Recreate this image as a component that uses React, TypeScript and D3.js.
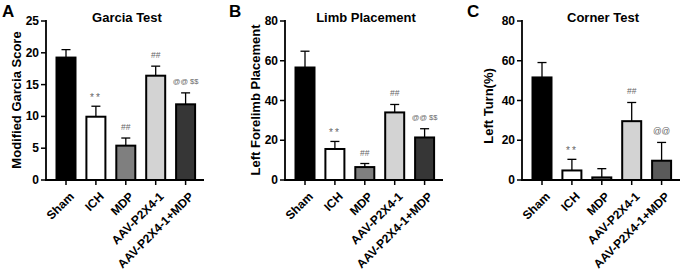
import React from "react";
import * as d3 from "d3";

const categories = ["Sham", "ICH", "MDP", "AAV-P2X4-1", "AAV-P2X4-1+MDP"];

const garciaMeans = [19.25, 9.95, 5.4, 16.4, 11.9];
const garciaErrors = [1.25, 1.65, 1.2, 1.5, 1.8];
const garciaMarks = ["", "**", "##", "##", "@@ $$"];
const garciaTicks = [0, 5, 10, 15, 20, 25];

const limbMeans = [56.6, 15.6, 6.5, 34, 21.4];
const limbErrors = [8.2, 3.8, 1.8, 4, 4.4];
const limbMarks = ["", "**", "##", "##", "@@ $$"];
const limbTicks = [0, 20, 40, 60, 80];

const cornerMeans = [51.6, 4.8, 1.3, 29.6, 9.7];
const cornerErrors = [7.5, 5.6, 4.4, 9.4, 9.2];
const cornerMarks = ["", "**", "", "##", "@@"];
const cornerTicks = [0, 20, 40, 60, 80];

const FONT = "'Liberation Sans', Arial, Helvetica, sans-serif";

type PanelProps = {
  letter: string;
  title: string;
  yTitle: string;
  means: number[];
  errors: number[];
  marks: string[];
  ticks: number[];
  fills: string[];
  axisX: number;
  letterX: number;
  yTitleX: number;
  yTitleY: number;
};

const Y_TOP = 21;
const Y_BOTTOM = 180;

function Panel(p: PanelProps) {
  const yMax = p.ticks[p.ticks.length - 1];
  const y = d3.scaleLinear().domain([0, yMax]).range([Y_BOTTOM, Y_TOP]);
  const x = d3
    .scalePoint<string>()
    .domain(categories)
    .range([p.axisX + 20, p.axisX + 139.6]);
  const barW = 19;
  const capW = 9;
  return (
    <g fontFamily={FONT}>
      <text x={p.letterX} y={17} fontSize={17} fontWeight="bold" fill="#000">
        {p.letter}
      </text>
      <text
        x={p.axisX + 81}
        y={21.5}
        fontSize={13}
        fontWeight="bold"
        textAnchor="middle"
        fill="#000"
      >
        {p.title}
      </text>
      <text
        transform={`translate(${p.yTitleX},${p.yTitleY}) rotate(-90)`}
        fontSize={13}
        fontWeight="bold"
        textAnchor="middle"
        fill="#000"
      >
        {p.yTitle}
      </text>
      {/* bars */}
      {categories.map((c, i) => {
        const cx = x(c) as number;
        const top = y(p.means[i]);
        const errTop = y(p.means[i] + p.errors[i]);
        const m = p.marks[i];
        return (
          <g key={c}>
            <line x1={cx} x2={cx} y1={top} y2={errTop} stroke="#000" strokeWidth={1.3} />
            <line
              x1={cx - capW / 2}
              x2={cx + capW / 2}
              y1={errTop}
              y2={errTop}
              stroke="#000"
              strokeWidth={1.3}
            />
            <rect
              x={cx - barW / 2}
              y={top}
              width={barW}
              height={Y_BOTTOM - top}
              fill={p.fills[i]}
              stroke="#000"
              strokeWidth={2}
            />
            {m && (
              <text
                x={cx}
                y={errTop - 11}
                dominantBaseline="central"
                textAnchor="middle"
                fontSize={m === "**" ? 10 : m.length > 2 ? 7.5 : 8.5}
                letterSpacing={m === "**" ? 2 : 0}
                fill="#666"
                dy={m === "**" ? 2 : 0}
              >
                {m}
              </text>
            )}
          </g>
        );
      })}
      {/* y axis */}
      <line x1={p.axisX} x2={p.axisX} y1={Y_TOP - 1} y2={Y_BOTTOM + 1} stroke="#000" strokeWidth={1.8} />
      {p.ticks.map((t) => (
        <g key={t}>
          <line
            x1={p.axisX - 5}
            x2={p.axisX}
            y1={y(t)}
            y2={y(t)}
            stroke="#000"
            strokeWidth={1.5}
          />
          <text
            x={p.axisX - 7}
            y={y(t)}
            dominantBaseline="central"
            textAnchor="end"
            fontSize={12}
            fontWeight="bold"
            fill="#000"
          >
            {t}
          </text>
        </g>
      ))}
      {/* x axis */}
      <line x1={p.axisX - 1} x2={p.axisX + 158} y1={Y_BOTTOM} y2={Y_BOTTOM} stroke="#000" strokeWidth={1.8} />
      {categories.map((c) => {
        const cx = x(c) as number;
        return (
          <g key={"t" + c}>
            <line x1={cx} x2={cx} y1={Y_BOTTOM} y2={Y_BOTTOM + 5} stroke="#000" strokeWidth={1.5} />
            <text
              transform={`translate(${cx + 2.5},${Y_BOTTOM + 11}) rotate(-45)`}
              textAnchor="end"
              dominantBaseline="hanging"
              fontSize={12}
              fontWeight="bold"
              fill="#000"
            >
              {c}
            </text>
          </g>
        );
      })}
    </g>
  );
}

export default function App() {
  return (
    <svg
      width={685}
      height={273}
      style={{ position: "absolute", left: 0, top: 0, background: "#fff" }}
    >
      <rect width={685} height={273} fill="#fff" />
      <Panel
        letter="A"
        title="Garcia Test"
        yTitle="Modified Garcia Score"
        means={garciaMeans}
        errors={garciaErrors}
        marks={garciaMarks}
        ticks={garciaTicks}
        fills={["#000", "#fff", "#7f7f7f", "#d3d3d3", "#363636"]}
        axisX={46}
        letterX={2}
        yTitleX={20.5}
        yTitleY={100}
      />
      <Panel
        letter="B"
        title="Limb Placement"
        yTitle="Left Forelimb Placement"
        means={limbMeans}
        errors={limbErrors}
        marks={limbMarks}
        ticks={limbTicks}
        fills={["#000", "#fff", "#7f7f7f", "#d3d3d3", "#363636"]}
        axisX={285}
        letterX={229}
        yTitleX={259.5}
        yTitleY={100}
      />
      <Panel
        letter="C"
        title="Corner Test"
        yTitle="Left Turn(%)"
        means={cornerMeans}
        errors={cornerErrors}
        marks={cornerMarks}
        ticks={cornerTicks}
        fills={["#000", "#fff", "#7f7f7f", "#d3d3d3", "#5a5a5a"]}
        axisX={522}
        letterX={467}
        yTitleX={492.5}
        yTitleY={106}
      />
    </svg>
  );
}
